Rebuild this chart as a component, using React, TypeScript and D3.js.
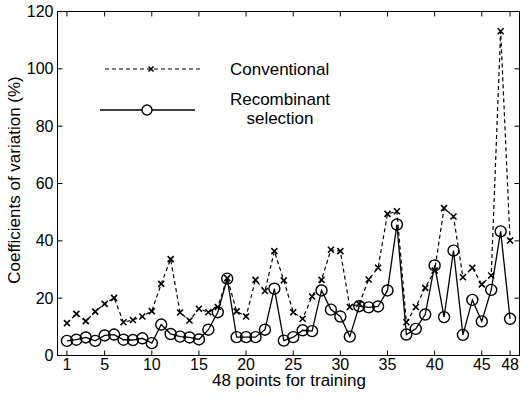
import React, { useRef, useEffect } from "react";
import * as d3 from "d3";

// 48 training points
const points = d3.range(1, 49);

const conventional = [
  11.3, 14.5, 12.0, 15.3, 18.0, 20.1, 11.6, 12.4, 13.6, 15.5, 25.0, 33.6,
  15.0, 12.2, 16.3, 15.1, 16.9, 27.0, 15.4, 13.6, 26.4, 22.5, 36.4, 26.2,
  15.1, 12.8, 20.6, 26.4, 36.9, 36.4, 16.9, 18.0, 26.5, 30.6, 49.4, 50.3,
  11.6, 16.9, 23.6, 29.6, 51.4, 48.5, 27.3, 30.6, 24.8, 27.9, 113.1, 40.1,
];

const recombinant = [
  5.1, 5.5, 6.3, 5.1, 7.0, 7.3, 5.5, 5.4, 6.0, 4.3, 10.8, 7.5,
  6.6, 6.3, 5.6, 9.0, 15.1, 26.8, 6.4, 6.4, 6.4, 9.0, 23.3, 5.2,
  6.4, 8.8, 8.5, 22.7, 16.0, 13.6, 6.6, 17.2, 16.8, 17.1, 22.7, 45.7,
  7.3, 9.3, 14.3, 31.4, 13.4, 36.6, 7.2, 19.4, 11.9, 22.9, 43.3, 12.8,
];

const xTicks = [1, 5, 10, 15, 20, 25, 30, 35, 40, 45, 48];
const yTicks = [0, 20, 40, 60, 80, 100, 120];

const font = "Helvetica, Arial, 'Liberation Sans', sans-serif";

function Chart() {
  const ref = useRef<SVGSVGElement>(null);

  useEffect(() => {
    const svg = d3.select(ref.current);
    svg.selectAll("*").remove();

    const left = 57.5,
      right = 519.5,
      top = 11.5,
      bottom = 355.5;

    const x = d3.scaleLinear().domain([0, 49]).range([left, right]);
    const y = d3.scaleLinear().domain([0, 120]).range([bottom, top]);

    const g = svg.append("g");

    // box
    g.append("rect")
      .attr("x", left)
      .attr("y", top)
      .attr("width", right - left)
      .attr("height", bottom - top)
      .attr("fill", "none")
      .attr("stroke", "#000")
      .attr("stroke-width", 1);

    const tickLen = 5;
    // x ticks (bottom + top, inward)
    xTicks.forEach((t) => {
      g.append("line")
        .attr("x1", x(t))
        .attr("x2", x(t))
        .attr("y1", bottom)
        .attr("y2", bottom - tickLen)
        .attr("stroke", "#000");
      g.append("line")
        .attr("x1", x(t))
        .attr("x2", x(t))
        .attr("y1", top)
        .attr("y2", top + tickLen)
        .attr("stroke", "#000");
      g.append("text")
        .attr("x", x(t))
        .attr("y", bottom + 14)
        .attr("text-anchor", "middle")
        .style("font-family", font)
        .style("font-size", "16px")
        .text(t);
    });

    // y ticks (left + right, inward)
    yTicks.forEach((t) => {
      g.append("line")
        .attr("x1", left)
        .attr("x2", left + tickLen)
        .attr("y1", y(t))
        .attr("y2", y(t))
        .attr("stroke", "#000");
      g.append("line")
        .attr("x1", right)
        .attr("x2", right - tickLen)
        .attr("y1", y(t))
        .attr("y2", y(t))
        .attr("stroke", "#000");
      g.append("text")
        .attr("x", left - 4)
        .attr("y", y(t))
        .attr("dy", "0.35em")
        .attr("text-anchor", "end")
        .style("font-family", font)
        .style("font-size", "16px")
        .text(t);
    });

    // axis titles
    g.append("text")
      .attr("x", 289)
      .attr("y", 386)
      .attr("text-anchor", "middle")
      .style("font-family", font)
      .style("font-size", "17px")
      .text("48 points for training");

    g.append("text")
      .attr("transform", "translate(20,180) rotate(-90)")
      .attr("text-anchor", "middle")
      .style("font-family", font)
      .style("font-size", "17px")
      .text("Coefficients of variation (%)");

    const line = d3
      .line<number>()
      .x((d, i) => x(points[i]))
      .y((d) => y(d));

    // conventional: dashed with x markers
    g.append("path")
      .datum(conventional)
      .attr("d", line)
      .attr("fill", "none")
      .attr("stroke", "#000")
      .attr("stroke-width", 1.2)
      .attr("stroke-dasharray", "4,3");

    const cross = (sel: any, cx: number, cy: number, s = 3) => {
      sel
        .append("path")
        .attr("d", `M${cx - s},${cy - s}L${cx + s},${cy + s}M${cx - s},${cy + s}L${cx + s},${cy - s}`)
        .attr("stroke", "#000")
        .attr("stroke-width", 1.6)
        .attr("fill", "none");
    };

    conventional.forEach((v, i) => cross(g, x(points[i]), y(v)));

    // recombinant: solid with circles
    g.append("path")
      .datum(recombinant)
      .attr("d", line)
      .attr("fill", "none")
      .attr("stroke", "#000")
      .attr("stroke-width", 1.3);

    g.selectAll("circle.rec")
      .data(recombinant)
      .enter()
      .append("circle")
      .attr("class", "rec")
      .attr("cx", (d, i) => x(points[i]))
      .attr("cy", (d) => y(d))
      .attr("r", 5.5)
      .attr("fill", "none")
      .attr("stroke", "#000")
      .attr("stroke-width", 1.4);

    // legend
    g.append("line")
      .attr("x1", 105)
      .attr("x2", 200)
      .attr("y1", 69)
      .attr("y2", 69)
      .attr("stroke", "#000")
      .attr("stroke-width", 1.2)
      .attr("stroke-dasharray", "4,3");
    cross(g, 151, 69, 2.5);
    g.append("text")
      .attr("x", 230)
      .attr("y", 75)
      .style("font-family", font)
      .style("font-size", "17px")
      .text("Conventional");

    g.append("line")
      .attr("x1", 100)
      .attr("x2", 195)
      .attr("y1", 110)
      .attr("y2", 110)
      .attr("stroke", "#000")
      .attr("stroke-width", 1.3);
    g.append("circle")
      .attr("cx", 147)
      .attr("cy", 110)
      .attr("r", 5)
      .attr("fill", "#fff")
      .attr("stroke", "#000")
      .attr("stroke-width", 1.4);
    g.append("text")
      .attr("x", 280)
      .attr("y", 105)
      .attr("text-anchor", "middle")
      .style("font-family", font)
      .style("font-size", "17px")
      .text("Recombinant");
    g.append("text")
      .attr("x", 280)
      .attr("y", 124)
      .attr("text-anchor", "middle")
      .style("font-family", font)
      .style("font-size", "17px")
      .text("selection");
  }, []);

  return (
    <svg
      ref={ref}
      width={520}
      height={400}
      style={{ position: "absolute", left: 0, top: 0, background: "#fff" }}
    ></svg>
  );
}

export default function App() {
  return <Chart />;
}
